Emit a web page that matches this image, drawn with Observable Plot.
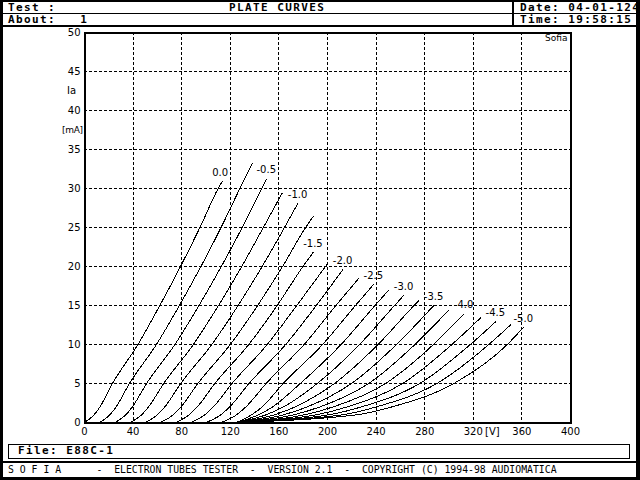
<!DOCTYPE html>
<html>
<head>
<meta charset="utf-8">
<script src="https://cdn.jsdelivr.net/npm/d3@7"></script>
<script src="https://cdn.jsdelivr.net/npm/@observablehq/plot@0.6"></script>
<style>
html, body { margin: 0; padding: 0; background: #000; }
#page { position: relative; width: 640px; height: 480px; background: #000; overflow: hidden; font-family: "DejaVu Sans Mono", monospace; color: #000; }
.box { position: absolute; background: #fff; }
.line { position: absolute; background: #000; }
.hd { position: absolute; white-space: pre; font-weight: bold; font-size: 11px; letter-spacing: 1.4px; line-height: 10px; }
.ann { position: absolute; white-space: pre; font-family: "DejaVu Sans", sans-serif; font-size: 10px; line-height: 10px; }
#chart { position: absolute; left: 3px; top: 27px; width: 633px; height: 434px; background: #fff; overflow: hidden; }
#chart svg { position: absolute; left: -3px; top: 0; max-width: none !important; width: 640px; height: 414px; }
</style>
</head>
<body>
<div id="page">
  <!-- header -->
  <div class="box" style="left:3px;top:2px;width:633px;height:23px"></div>
  <div class="line" style="left:3px;top:13px;width:633px;height:1px"></div>
  <div class="line" style="left:512px;top:2px;width:2px;height:23px"></div>
  <div class="hd" style="left:8px;top:3px">Test :</div>
  <div class="hd" style="left:229px;top:3px">PLATE CURVES</div>
  <div class="hd" style="left:520px;top:3px">Date: 04-01-124</div>
  <div class="hd" style="left:8px;top:15px">About:   1</div>
  <div class="hd" style="left:520px;top:15px">Time: 19:58:15</div>

  <!-- chart area -->
  <div id="chart"></div>
  <div class="ann" style="left:67px;top:86px">Ia</div>
  <div class="ann" style="left:62px;top:125px;font-size:9px;letter-spacing:-0.3px">[mA]</div>
  <div class="ann" style="left:485px;top:427px">[V]</div>
  <div class="ann" style="left:545px;top:33px;font-size:9px">Sofia</div>

  <!-- file box -->
  <div style="position:absolute;left:8px;top:444px;width:620px;height:13px;border:1px solid #000;background:#fff"></div>
  <div class="hd" style="left:18px;top:446px">File: E88C-1</div>

  <!-- footer -->
  <div class="box" style="left:3px;top:463px;width:633px;height:14px"></div>
  <div style="position:absolute;left:8px;top:464px;white-space:pre;font-size:9.8px;line-height:12px">S O F I A      -  ELECTRON TUBES TESTER  -  VERSION 2.1  -  COPYRIGHT (C) 1994-98 AUDIOMATICA</div>
</div>

<script>
// Grid voltages (V) of the measured family
const gridVoltages = [0.0, -0.25, -0.5, -0.75, -1.0, -1.25, -1.5, -1.75, -2.0, -2.25, -2.5,
                      -2.75, -3.0, -3.25, -3.5, -3.75, -4.0, -4.25, -4.5, -4.75, -5.0];
// Labels shown at the end of every other curve
const curveLabels = ["0.0", "", "-0.5", "", "-1.0", "", "-1.5", "", "-2.0", "", "-2.5",
                     "", "-3.0", "", "-3.5", "", "-4.0", "", "-4.5", "", "-5.0"];
// Plate voltage (V) of each curve point
const plateVoltages = [
  [0, 8, 12.7, 23, 44, 62, 79, 95, 110, 113.3],
  [12.5, 21, 26, 37, 59.2, 78.1, 95.8, 112.4, 127.9, 138],
  [25, 34.1, 39.4, 51.1, 74.4, 94.2, 112.6, 129.8, 145.8, 149.8],
  [37.5, 47.1, 52.7, 65.2, 89.6, 110.3, 129.4, 147.2, 162.7],
  [50, 60.1, 66.1, 79.2, 104.8, 126.4, 146.2, 164.6, 175.6],
  [62.5, 73.1, 79.4, 93.3, 120, 142.5, 163, 182, 188.2],
  [75, 86.2, 92.8, 107.3, 135.2, 158.6, 179.8, 188.2],
  [87.5, 99.2, 106.1, 121.4, 150.4, 174.7, 199.8],
  [100, 112.3, 119.5, 135.4, 165.6, 190.8, 212.6],
  [112.5, 125.3, 132.8, 149.5, 180.8, 206.9, 225.8],
  [125, 137.7, 146.2, 163.5, 196, 223, 237.9],
  [125, 143.4, 154.8, 177.6, 211.2, 239.1, 250.5],
  [125, 149.7, 163.8, 191.6, 226.4, 255.2, 262.8],
  [125, 156.6, 173.3, 205.7, 241.6, 271.3, 275.1],
  [125, 164.2, 183.3, 219.7, 256.8, 287.5],
  [125, 172.5, 193.8, 233.8, 272, 299.8],
  [125, 181.4, 204.7, 247.8, 287.2, 312.2],
  [125, 191.1, 216.1, 261.9, 302.4, 325.9],
  [125, 201.6, 227.9, 275.9, 317.6, 338.3],
  [125, 212.8, 240.2, 290, 332.8, 350.6],
  [125, 224.8, 253, 304, 348, 361.3]
];
// Plate current (mA) of each curve point
const plateCurrents = [
  [0, 1, 2, 5, 10, 15, 20, 25, 30, 30.9],
  [0, 1, 2, 5, 10, 15, 20, 25, 30, 33.2],
  [0, 1, 2, 5, 10, 15, 20, 25, 30, 31.2],
  [0, 1, 2, 5, 10, 15, 20, 25, 29.4],
  [0, 1, 2, 5, 10, 15, 20, 25, 28.1],
  [0, 1, 2, 5, 10, 15, 20, 25, 26.4],
  [0, 1, 2, 5, 10, 15, 20, 21.8],
  [0, 1, 2, 5, 10, 15, 20.3],
  [0, 1, 2, 5, 10, 15, 19.6],
  [0, 1, 2, 5, 10, 15, 18.5],
  [0, 1, 2, 5, 10, 15, 17.7],
  [0, 1, 2, 5, 10, 15, 17.0],
  [0, 1, 2, 5, 10, 15, 16.3],
  [0, 1, 2, 5, 10, 15, 15.6],
  [0, 1, 2, 5, 10, 15.0],
  [0, 1, 2, 5, 10, 14.4],
  [0, 1, 2, 5, 10, 13.9],
  [0, 1, 2, 5, 10, 13.4],
  [0, 1, 2, 5, 10, 12.9],
  [0, 1, 2, 5, 10, 12.5],
  [0, 1, 2, 5, 10, 12.2]
];
// Axis ticks
const xTickValues = [0, 40, 80, 120, 160, 200, 240, 280, 320, 360, 400];
const yTickValues = [0, 5, 10, 15, 20, 25, 30, 35, 40, 45, 50];
const xGridValues = [40, 80, 120, 160, 200, 240, 280, 320, 360];
const yGridValues = [5, 10, 15, 20, 25, 30, 35, 40, 45];

const rows = [];
const labelRows = [];
gridVoltages.forEach((vg, k) => {
  const vs = plateVoltages[k], is = plateCurrents[k];
  vs.forEach((v, j) => rows.push({vg, v, i: is[j]}));
  if (curveLabels[k]) labelRows.push({v: vs[vs.length - 1], i: is[is.length - 1], label: curveLabels[k]});
});

const chart = Plot.plot({
  width: 640,
  height: 414,
  marginLeft: 84,
  marginRight: 70,
  marginTop: 5,
  marginBottom: 19,
  style: {background: "transparent", fontFamily: "DejaVu Sans, sans-serif", fontSize: "10px", color: "black", shapeRendering: "crispEdges", maxWidth: "none"},
  x: {domain: [0, 400], ticks: xTickValues, tickSize: 0, tickPadding: 5, tickFormat: d => String(d), label: null},
  y: {domain: [0, 50], ticks: yTickValues, tickSize: 0, tickPadding: 4, tickFormat: d => String(d), label: null},
  marks: [
    Plot.ruleX(xGridValues, {stroke: "black", strokeWidth: 1, strokeDasharray: "3,2"}),
    Plot.ruleY(yGridValues, {stroke: "black", strokeWidth: 1, strokeDasharray: "3,2"}),
    Plot.line(rows, {x: "v", y: "i", z: "vg", stroke: "black", strokeWidth: 1, curve: "monotone-x"}),
    Plot.text(labelRows, {x: "v", y: "i", text: "label", textAnchor: "start", dx: -10, dy: -9, fill: "black", fontSize: 10}),
    Plot.frame({stroke: "black", strokeWidth: 2})
  ]
});
document.getElementById("chart").appendChild(chart);
</script>
</body>
</html>
